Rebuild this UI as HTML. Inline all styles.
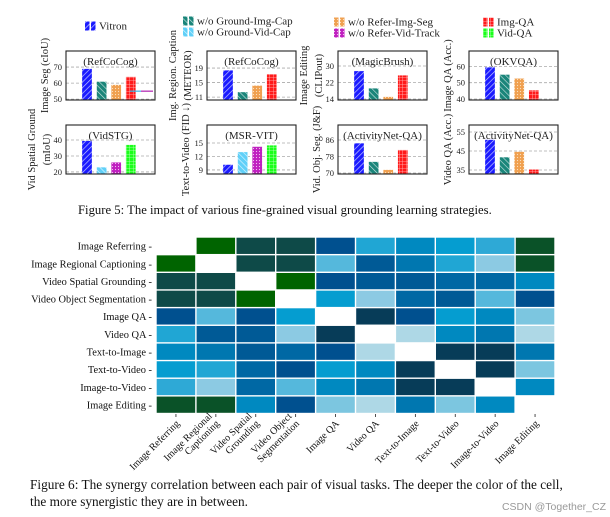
<!DOCTYPE html>
<html><head><meta charset="utf-8"><style>
html,body{margin:0;padding:0;background:#fff;}
svg{display:block;font-family:"Liberation Serif",serif;}
</style></head><body>
<svg id="c" width="610" height="517" viewBox="0 0 610 517" xmlns="http://www.w3.org/2000/svg">
<defs>
<pattern id="p-blue" width="4" height="4" patternUnits="userSpaceOnUse" patternTransform="rotate(45)"><rect width="4" height="4" fill="#1a1aff"/><line x1="0" y1="0" x2="0" y2="4" stroke="#cfd3ff" stroke-width="1.3"/></pattern>
<pattern id="p-teal" width="4" height="4" patternUnits="userSpaceOnUse" patternTransform="rotate(-45)"><rect width="4" height="4" fill="#1a857a"/><line x1="0" y1="0" x2="0" y2="4" stroke="#cfe6e3" stroke-width="1.2"/></pattern>
<pattern id="p-orange" width="3" height="3" patternUnits="userSpaceOnUse"><rect width="3" height="3" fill="#f0a050"/><circle cx="1.5" cy="1.5" r="0.6" fill="#fbe0c0"/></pattern>
<pattern id="p-red" width="3.5" height="3.5" patternUnits="userSpaceOnUse"><rect width="3.5" height="3.5" fill="#ff1a1a"/><path d="M0 0H3.5M0 0V3.5" stroke="#ffc0c0" stroke-width="0.8"/></pattern>
<pattern id="p-cyan" width="4" height="4" patternUnits="userSpaceOnUse" patternTransform="rotate(-45)"><rect width="4" height="4" fill="#60d0f8"/><line x1="0" y1="0" x2="0" y2="4" stroke="#e0f6ff" stroke-width="1.2"/></pattern>
<pattern id="p-magenta" width="3" height="3" patternUnits="userSpaceOnUse"><rect width="3" height="3" fill="#c020c0"/><circle cx="1.5" cy="1.5" r="0.6" fill="#f0c0f0"/></pattern>
<pattern id="p-green" width="3.5" height="3.5" patternUnits="userSpaceOnUse"><rect width="3.5" height="3.5" fill="#1aff1a"/><path d="M0 0H3.5M0 0V3.5" stroke="#c0ffc0" stroke-width="0.8"/></pattern>
</defs>
<g id="legend" font-size="11" fill="#222"></g>
<g id="panels"></g>
<text x="78" y="214" font-size="12.7" fill="#111">Figure 5: The impact of various fine-grained visual grounding learning strategies.</text>
<g id="heat"></g>
<text x="30" y="489" font-size="13.3" fill="#111">Figure 6: The synergy correlation between each pair of visual tasks. The deeper the color of the cell,</text>
<text x="30" y="506" font-size="13.3" fill="#111">the more synergistic they are in between.</text>
<text x="606" y="510" font-size="10.5" fill="#999" text-anchor="end" font-family="Liberation Sans, sans-serif">CSDN @Together_CZ</text>
</svg>
<script>
const NS="http://www.w3.org/2000/svg";
function mk(tag,attrs,parent){const e=document.createElementNS(NS,tag);for(const k in attrs)e.setAttribute(k,attrs[k]);parent.appendChild(e);return e;}

// ---- bar chart data ----
const panelTitles=["(RefCoCog)","(RefCoCog)","(MagicBrush)","(OKVQA)","(VidSTG)","(MSR-VIT)","(ActivityNet-QA)","(ActivityNet-QA)"];
const panelYLabels=[["Image Seg (cIoU)"],["Img. Region. Caption","(METEOR)"],["Image Editing","(CLIPout)"],["Image QA (Acc.)"],["Vid Spatial Ground","(mIoU)"],["Text-to-Video (FID ↓)"],["Vid. Obj. Seg. (J&F)"],["Video QA (Acc.)"]];
const panelSeries=[["blue","teal","orange","red"],["blue","teal","orange","red"],["blue","teal","orange","red"],["blue","teal","orange","red"],["blue","cyan","magenta","green"],["blue","cyan","magenta","green"],["blue","teal","orange","red"],["blue","teal","orange","red"]];
const v0=[69,61,59,64];
const v1=[18.4,12.4,14.2,17.3];
const v2=[27.6,19.2,15.1,25.5];
const v3=[59.5,55,52.6,45.4];
const v4=[39.5,23,26,37];
const v5=[10.2,13,14.2,14.5];
const v6=[84.5,75.5,71.6,81.2];
const v7=[51,41.8,44.7,35.3];
const panelValues=[v0,v1,v2,v3,v4,v5,v6,v7];
const panelTicks=[[50,60,70],[11,15,19],[14,22,30],[40,50,60],[20,30,40],[9,12,15],[70,78,86],[35,45,55]];
const panelDomain=[[49.5,80],[10.2,23.7],[13.5,37.3],[39.4,69.4],[18.7,49.4],[8.1,19],[69.5,93.3],[32.9,58.7]];

const legendNames=["Vitron","w/o Ground-Img-Cap","w/o Ground-Vid-Cap","w/o Refer-Img-Seg","w/o Refer-Vid-Track","Img-QA","Vid-QA"];
const legendKeys=["blue","teal","cyan","orange","magenta","red","green"];
const legendPos=[[85,26],[183,21],[183,32],[334,22],[334,33],[483,22],[483,33]];
const lg=document.getElementById('legend');
legendNames.forEach((n,i)=>{
  const g=mk('g',{},lg);
  
  
  const [x,y]=legendPos[i];
  mk('rect',{x:x,y:y-4.5,width:4.5,height:9,fill:'url(#p-'+legendKeys[i]+')'},g);
  mk('rect',{x:x+6,y:y-4.5,width:4.5,height:9,fill:'url(#p-'+legendKeys[i]+')'},g);
  const t=mk('text',{x:x+14,y:y+3.5},g);t.textContent=n;
});

const frames=[[66,51],[207,51],[338,51],[469,51],[66,125],[207,125],[338,125],[469,125]];
const FW=89,FH=49;
const pg=document.getElementById('panels');
panelValues.forEach((vals,p)=>{
  const g=mk('g',{},pg);
  
  
  const [fx,fy]=frames[p];const [d0,d1]=panelDomain[p];
  const y=v=>fy+FH-(v-d0)/(d1-d0)*FH;
  panelTicks[p].forEach(t=>{
    const l=mk('line',{x1:fx,x2:fx+FW,y1:y(t),y2:y(t),stroke:'#aaa','stroke-dasharray':'3,2','stroke-width':0.8},g);
    
    
    const tx=mk('text',{x:fx-4,y:y(t)+3,'font-size':8.5,'text-anchor':'end',fill:'#222'},g);
    
    
    tx.textContent=t;
  });
  vals.forEach((v,i)=>{
    const bx=fx+16+i*14.6;
    const r=mk('rect',{x:bx,y:y(v),width:10,height:fy+FH-y(v),fill:'url(#p-'+panelSeries[p][i]+')',stroke:'#fff','stroke-width':0.3},g);
    
    
  });
  if(p===0){mk('line',{x1:fx+64,x2:fx+75,y1:y(55),y2:y(55),stroke:'#3ab8e8','stroke-width':1.2},g);mk('line',{x1:fx+75,x2:fx+87,y1:y(55),y2:y(55),stroke:'#b020b0','stroke-width':1.2},g);}
  mk('rect',{x:fx,y:fy,width:FW,height:FH,fill:'none',stroke:'#222','stroke-width':1.1},g);
  const tt=mk('text',{x:fx+FW/2,y:fy+14,'font-size':11,'text-anchor':'middle',fill:'#222'},g);
  
  
  tt.textContent=panelTitles[p];
  const labs=panelYLabels[p];
  labs.forEach((s,k)=>{
    const lx=fx-(labs.length===1?18:(k===0?31:16)), ly=fy+FH/2;
    const t=mk('text',{x:lx,y:ly,'font-size':10.5,'text-anchor':'middle',fill:'#222',transform:'rotate(-90 '+lx+' '+ly+')'},g);
    
    
    t.textContent=s;
  });
});

// ---- heatmap data ----
const tasks=["Image Referring","Image Regional Captioning","Video Spatial Grounding","Video Object Segmentation","Image QA","Video QA","Text-to-Image","Text-to-Video","Image-to-Video","Image Editing"];
const colLabels=[["Image Referring"],["Image Regional","Captioning"],["Video Spatial","Grounding"],["Video Object","Segmentation"],["Image QA"],["Video QA"],["Text-to-Image"],["Text-to-Video"],["Image-to-Video"],["Image Editing"]];
const synergy=[
 [-1,15,13,13,11,5,7,6,4,14],
 [15,-1,13,13,3,10,8,5,1,14],
 [13,13,-1,15,11,10,10,9,9,7],
 [13,13,15,-1,6,1,9,10,3,11],
 [11,3,11,6,-1,12,11,6,7,2],
 [5,10,10,1,12,-1,0,7,8,0],
 [7,8,10,9,11,0,-1,12,12,8],
 [6,5,9,11,6,7,12,-1,12,2],
 [4,1,9,3,7,8,12,12,-1,7],
 [14,14,7,11,2,0,8,2,7,-1]];
const palette=["#aed8e6","#8ccae3","#7cc6e0","#55b8dc","#2ea9d6","#20a6d4","#059dd0","#0089c0","#0077b0","#0068a4","#005a96","#00508f","#073c58","#0e4a48","#0a5228","#006400"];
const hg=document.getElementById('heat');
const HX=156,HY=237,CW=39.9,CH=17.65;
synergy.forEach((row,r)=>{
  row.forEach((v,c)=>{
    if(v<0)return;
    const e=mk('rect',{x:HX+c*CW+0.7,y:HY+r*CH+0.7,width:CW-1.4,height:CH-1.4,fill:palette[v]},hg);
    
    
  });
  const t=mk('text',{x:152,y:HY+r*CH+CH/2+3.8,'font-size':10.4,'text-anchor':'end',fill:'#111'},hg);
  
  
  t.textContent=tasks[r]+" -";
});
colLabels.forEach((ls,c)=>{
  const cx=HX+c*CW+CW/2;
  mk('line',{x1:cx,x2:cx,y1:414,y2:417,stroke:'#222','stroke-width':0.8},hg);
  const t=mk('text',{'font-size':10,'text-anchor':'end',fill:'#111',transform:'translate('+(cx+2)+' 422) rotate(-45)'},hg);
  
  
  ls.forEach((s,k)=>{const sp=mk('tspan',{x:0,y:(k-(ls.length-1))*10.5+3},t);sp.textContent=s;});
});
</script>
</body></html>
